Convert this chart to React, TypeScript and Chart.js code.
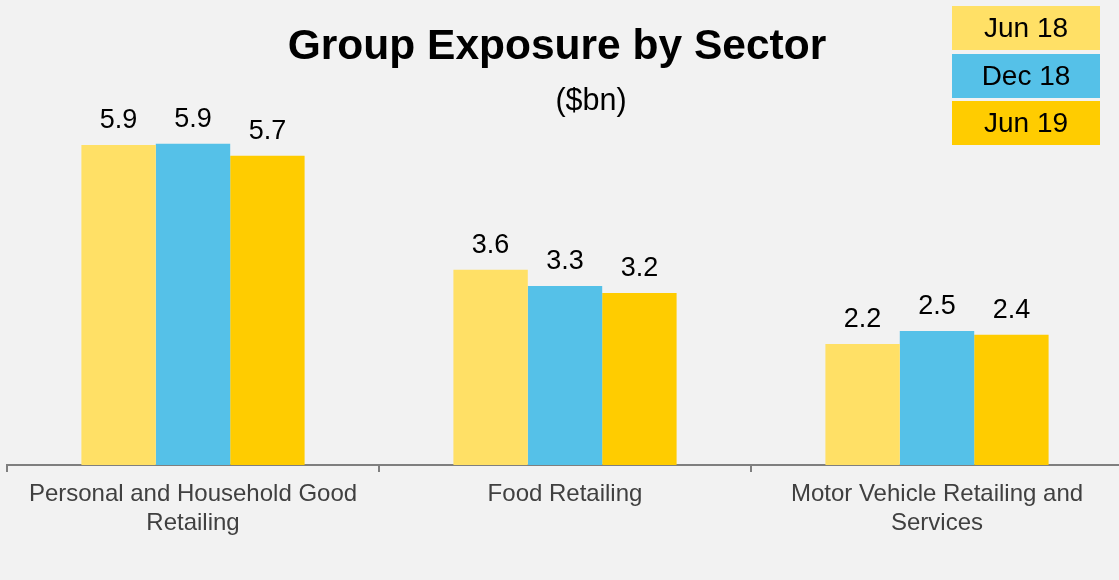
import React, { useEffect, useRef } from "react";
import { Chart, registerables } from "chart.js";

Chart.register(...registerables);

const categories: string[][] = [
  ["Personal and Household Good", "Retailing"],
  ["Food Retailing"],
  ["Motor Vehicle Retailing and", "Services"],
];
const seriesNames = ["Jun 18", "Dec 18", "Jun 19"];
const jun18 = [5.9, 3.6, 2.23];
const dec18 = [5.92, 3.3, 2.47];
const jun19 = [5.7, 3.17, 2.4];
const seriesColors = ["#FFE066", "#55C1E8", "#FFCC00"];
const titleText = "Group Exposure by Sector";
const subtitleText = "($bn)";

const FONT = "'Liberation Sans', Arial, Helvetica, sans-serif";

const overlayPlugin = {
  id: "overlay",
  afterDatasetsDraw(chart: any) {
    const ctx = chart.ctx as CanvasRenderingContext2D;
    ctx.save();
    // data labels
    ctx.fillStyle = "#000000";
    ctx.font = `27px ${FONT}`;
    ctx.textAlign = "center";
    ctx.textBaseline = "alphabetic";
    chart.data.datasets.forEach((ds: any, di: number) => {
      const meta = chart.getDatasetMeta(di);
      meta.data.forEach((bar: any, i: number) => {
        const v = ds.data[i] as number;
        ctx.fillText(v.toFixed(1), bar.x, bar.y - 17);
      });
    });
    // title
    ctx.font = `bold 42.5px ${FONT}`;
    ctx.fillText(titleText, 557, 59);
    ctx.font = `30.5px ${FONT}`;
    ctx.fillText(subtitleText, 591, 110);
    // legend boxes
    const boxX = 952;
    const boxW = 148;
    const boxTops = [6, 54, 101];
    const boxH = 44;
    chart.data.datasets.forEach((ds: any, di: number) => {
      ctx.fillStyle = ds.backgroundColor;
      ctx.fillRect(boxX, boxTops[di], boxW, boxH);
      ctx.fillStyle = "#000000";
      ctx.font = `28px ${FONT}`;
      ctx.textBaseline = "middle";
      ctx.fillText(ds.label, boxX + boxW / 2, boxTops[di] + boxH / 2 + 1);
    });
    ctx.restore();
  },
};

export default function App() {
  const ref = useRef<HTMLCanvasElement | null>(null);
  useEffect(() => {
    if (!ref.current) return;
    const values = [jun18, dec18, jun19];
    const chart = new Chart(ref.current, {
      type: "bar",
      data: {
        labels: categories,
        datasets: seriesNames.map((name, i) => ({
          label: name,
          data: values[i],
          backgroundColor: seriesColors[i],
          borderWidth: 0,
          categoryPercentage: 0.6,
          barPercentage: 1.0,
        })),
      },
      options: {
        animation: false,
        responsive: false,
        devicePixelRatio: 1,
        layout: { padding: { top: 31, left: 7, right: 1, bottom: 0 } },
        plugins: {
          legend: { display: false },
          title: { display: false },
          tooltip: { enabled: false },
        },
        scales: {
          x: {
            offset: true,
            grid: {
              display: true,
              offset: true,
              drawOnChartArea: false,
              drawTicks: true,
              tickLength: 7,
              color: "#7f7f7f",
              lineWidth: 2,
            },
            border: { display: true, color: "#7f7f7f", width: 2 },
            ticks: {
              font: { family: FONT, size: 24, lineHeight: 1.2 },
              color: "#404040",
              padding: 8,
              maxRotation: 0,
              minRotation: 0,
              autoSkip: false,
            },
            afterFit: (scale: any) => {
              scale.height = 115;
            },
          },
          y: {
            display: false,
            min: 0,
            max: 8,
          },
        },
      },
      plugins: [overlayPlugin],
    });
    return () => chart.destroy();
  }, []);
  return (
    <div
      style={{
        position: "absolute",
        left: 0,
        top: 0,
        width: 1119,
        height: 580,
        overflow: "hidden",
        background: "#f2f2f2",
      }}
    >
      <canvas ref={ref} width={1124} height={580} style={{ display: "block" }} />
    </div>
  );
}
